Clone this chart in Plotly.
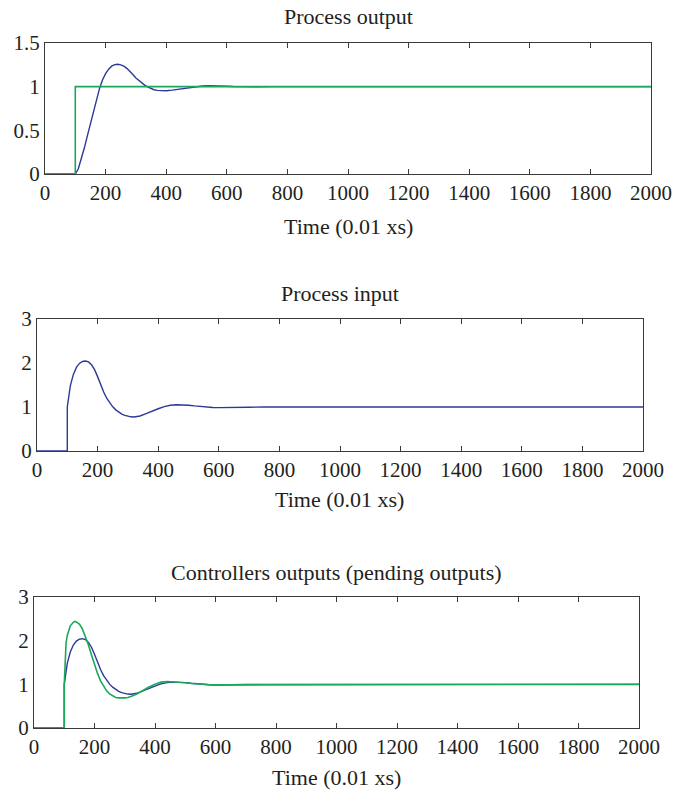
import plotly.graph_objects as go

# ---------------- data ----------------
# Process output (blue) and set-point step (green)
t_out = [0, 100, 110, 120, 130, 140, 150, 160, 170, 180, 190, 200, 210, 220, 230, 240,
         250, 260, 270, 280, 290, 300, 310, 320, 330, 340, 350, 360, 370, 380, 390,
         400, 420, 440, 460, 480, 500, 520, 540, 560, 580, 600, 620, 640, 660, 700,
         750, 2000]
y_out = [0, 0, 0.06, 0.17, 0.30, 0.44, 0.58, 0.72, 0.86, 0.98, 1.08, 1.15, 1.20, 1.235,
         1.252, 1.257, 1.25, 1.235, 1.21, 1.18, 1.14, 1.10, 1.07, 1.04, 1.015, 0.995,
         0.978, 0.965, 0.958, 0.954, 0.953, 0.954, 0.960, 0.970, 0.982, 0.994, 1.002,
         1.008, 1.011, 1.011, 1.009, 1.005, 1.002, 1.0, 0.998, 0.999, 1.0, 1.0]
t_ref = [0, 100, 100, 2000]
y_ref = [0, 0, 1, 1]

# Process input (blue) — also the first controller output
t_in = [0, 100, 100, 105, 110, 120, 130, 140, 150, 160, 170, 180, 190, 200, 210, 220,
        230, 240, 250, 260, 270, 280, 290, 300, 310, 320, 330, 340, 360, 380, 400,
        420, 440, 460, 480, 500, 520, 540, 560, 580, 600, 620, 640, 660, 700, 750, 2000]
y_in = [0, 0, 1.0, 1.28, 1.48, 1.74, 1.90, 1.99, 2.035, 2.045, 2.025, 1.96, 1.85, 1.69,
        1.51, 1.34, 1.20, 1.09, 1.005, 0.935, 0.88, 0.84, 0.81, 0.79, 0.777, 0.773, 0.778,
        0.795, 0.85, 0.91, 0.96, 1.01, 1.04, 1.05, 1.048, 1.04, 1.025, 1.01, 0.997,
        0.99, 0.986, 0.985, 0.987, 0.99, 0.995, 1.0, 1.0]

# Second controller (pending) output (green)
t_ctl = [0, 100, 100, 103, 106, 110, 115, 120, 130, 135, 140, 150, 160, 170, 180, 190,
         200, 210, 220, 230, 240, 250, 260, 270, 280, 290, 300, 310, 320, 340, 360,
         380, 400, 420, 440, 460, 480, 500, 520, 540, 560, 580, 600, 620, 640, 660,
         700, 750, 2000]
y_ctl = [0, 0, 1.0, 1.6, 1.95, 2.12, 2.25, 2.34, 2.42, 2.44, 2.43, 2.38, 2.27, 2.10,
         1.90, 1.67, 1.45, 1.25, 1.08, 0.95, 0.85, 0.78, 0.73, 0.70, 0.69, 0.686, 0.69,
         0.70, 0.72, 0.78, 0.86, 0.94, 1.00, 1.05, 1.065, 1.06, 1.05, 1.035, 1.02,
         1.005, 0.995, 0.99, 0.987, 0.987, 0.99, 0.993, 0.997, 1.0, 1.0]

titles = ["Process output", "Process input", "Controllers outputs (pending outputs)"]
xlabel = "Time (0.01 xs)"
x_ticks = [0, 200, 400, 600, 800, 1000, 1200, 1400, 1600, 1800, 2000]
y_ticks_top = [0, 0.5, 1, 1.5]
y_ticks_top_text = ["0", "0.5", "1", "1.5"]
y_ticks_low = [0, 1, 2, 3]

# ---------------- style ----------------
W, H = 675, 792
BLUE = "#2c3a96"
GREEN = "#1aa85a"
FONT = "Liberation Serif"
FS = 21
FS_ANN = 22
TXT = "#231f20"
AX = "#3a3a3a"

# panel boxes in pixels: (left, right, top, bottom)
boxes = [(45, 651, 43, 174), (37, 643, 319, 451), (34, 639, 597, 728)]
title_y = [17, 293, 572]
label_y = [226, 500, 777]


def px2x(p):
    return p / W


def px2y(p):
    return 1 - p / H


fig = go.Figure()

fig.add_trace(go.Scatter(x=t_out, y=y_out, mode="lines", line=dict(color=BLUE, width=1.4),
                         xaxis="x", yaxis="y", showlegend=False))
fig.add_trace(go.Scatter(x=t_ref, y=y_ref, mode="lines", line=dict(color=GREEN, width=1.6),
                         xaxis="x", yaxis="y", showlegend=False))
fig.add_trace(go.Scatter(x=t_in, y=y_in, mode="lines", line=dict(color=BLUE, width=1.4),
                         xaxis="x2", yaxis="y2", showlegend=False))
fig.add_trace(go.Scatter(x=t_in, y=y_in, mode="lines", line=dict(color=BLUE, width=1.4),
                         xaxis="x3", yaxis="y3", showlegend=False))
fig.add_trace(go.Scatter(x=t_ctl, y=y_ctl, mode="lines", line=dict(color=GREEN, width=1.6),
                         xaxis="x3", yaxis="y3", showlegend=False))

layout = dict(
    template="none",
    width=W, height=H, autosize=False,
    margin=dict(l=0, r=0, t=0, b=0, pad=0, autoexpand=False),
    paper_bgcolor="white", plot_bgcolor="white",
    font=dict(family=FONT, size=FS, color=TXT),
)

annotations = []
for i, (l, r, t, b) in enumerate(boxes):
    xa = "xaxis" if i == 0 else f"xaxis{i+1}"
    ya = "yaxis" if i == 0 else f"yaxis{i+1}"
    anchor_y = "y" if i == 0 else f"y{i+1}"
    anchor_x = "x" if i == 0 else f"x{i+1}"
    layout[xa] = dict(
        domain=[px2x(l), px2x(r)], anchor=anchor_y, range=[0, 2000],
        tickmode="array", tickvals=x_ticks, ticktext=[str(v) for v in x_ticks],
        ticks="inside", ticklen=5, tickwidth=1, tickcolor=AX,
        showline=True, linecolor=AX, linewidth=1, mirror="ticks",
        showgrid=False, zeroline=False, automargin=False,
        tickfont=dict(family=FONT, size=FS, color=TXT),
    )
    if i == 0:
        yv, yt, yr = y_ticks_top, y_ticks_top_text, [0, 1.5]
    else:
        yv, yt, yr = y_ticks_low, [str(v) for v in y_ticks_low], [0, 3]
    layout[ya] = dict(
        domain=[px2y(b), px2y(t)], anchor=anchor_x, range=yr,
        tickmode="array", tickvals=yv, ticktext=yt,
        ticks="", showline=True, linecolor=AX, linewidth=1, mirror=True,
        showgrid=False, zeroline=False, automargin=False,
        tickfont=dict(family=FONT, size=FS, color=TXT),
    )
    cx = (l + r) / 2
    annotations.append(dict(text=titles[i], xref="paper", yref="paper",
                            x=px2x(cx), y=px2y(title_y[i]), xanchor="center",
                            yanchor="middle", showarrow=False,
                            font=dict(family=FONT, size=FS_ANN, color=TXT)))
    annotations.append(dict(text=xlabel, xref="paper", yref="paper",
                            x=px2x(cx), y=px2y(label_y[i]), xanchor="center",
                            yanchor="middle", showarrow=False,
                            font=dict(family=FONT, size=FS_ANN, color=TXT)))

layout["annotations"] = annotations
fig.update_layout(**layout)
fig.write_html("out.html",
               config={"displayModeBar": False},
               post_script="document.body.style.margin='0';"
                           "document.body.style.overflow='hidden';")
